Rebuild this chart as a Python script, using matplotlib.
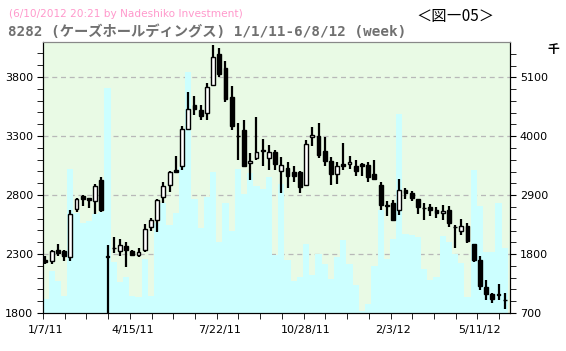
import numpy as np
import matplotlib
matplotlib.use("Agg")
import matplotlib.pyplot as plt

# weekly candles, 1/7/11 .. 6/8/12
opens = [2252, 2243, 2331, 2323, 2272, 2681, 2789, 2772, 2746, 2930,
         2282, 2352, 2323, 2371, 2328, 2294, 2331, 2529, 2591, 2783,
         2888, 3015, 3043, 3359, 3560, 3523, 3495, 3735, 3998, 3876,
         3631, 3302, 3354, 3071, 3111, 3178, 3114, 3164, 3006, 3029,
         2995, 2992, 2882, 3292, 3297, 3176, 3085, 2978, 3066, 3063,
         3049, 3066, 3057, 2978, 2888, 2712, 2732, 2670, 2840, 2817,
         2769, 2692, 2695, 2670, 2647, 2676, 2531, 2492, 2540, 2388,
         2252, 2020, 1958, 1960, 1912]
highs = [2286, 2337, 2388, 2337, 2676, 2777, 2803, 2775, 2896, 2950,
         2379, 2444, 2427, 2399, 2337, 2351, 2557, 2605, 2766, 2907,
         3003, 3133, 3382, 3670, 3636, 3565, 3749, 4074, 4046, 3933,
         3727, 3410, 3438, 3156, 3461, 3275, 3227, 3184, 3122, 3077,
         3049, 3000, 3269, 3376, 3410, 3292, 3122, 3080, 3241, 3133,
         3100, 3071, 3077, 3100, 2907, 2752, 2760, 2936, 2857, 2831,
         2769, 2732, 2727, 2698, 2718, 2710, 2546, 2599, 2563, 2388,
         2280, 2082, 1972, 2046, 1972]
lows = [2218, 2215, 2280, 2238, 2238, 2653, 2704, 2687, 2639, 2659,
        1780, 2308, 2286, 2187, 2280, 2275, 2320, 2492, 2484, 2732,
        2823, 2986, 3009, 3348, 3481, 3433, 3433, 3721, 3800, 3585,
        3354, 3094, 3034, 2924, 3094, 3043, 3009, 3009, 2817, 2859,
        2907, 2817, 2873, 3218, 3114, 3049, 2888, 2896, 3009, 3023,
        2958, 2958, 2907, 2930, 2670, 2625, 2582, 2633, 2769, 2746,
        2642, 2585, 2619, 2605, 2585, 2526, 2351, 2458, 2393, 2229,
        1992, 1907, 1887, 1907, 1830]
closes = [2229, 2328, 2308, 2280, 2642, 2766, 2766, 2755, 2879, 2676,
          2278, 2348, 2379, 2331, 2294, 2314, 2512, 2585, 2755, 2879,
          2995, 2995, 3359, 3529, 3529, 3467, 3715, 3970, 3825, 3614,
          3382, 3298, 3043, 3088, 3162, 3174, 3162, 3063, 3051, 2958,
          2958, 2868, 3232, 3309, 3142, 3085, 2978, 3049, 3043, 3080,
          3001, 3049, 2950, 2936, 2712, 2708, 2591, 2840, 2817, 2775,
          2695, 2688, 2670, 2647, 2664, 2563, 2527, 2534, 2407, 2252,
          2026, 1964, 1921, 1956, 1908]
# volume in thousands of shares
volumes = [970, 1490, 1300, 1020, 3390, 2570, 2380, 2420, 2540, 2590,
           4900, 1660, 1280, 1380, 1020, 1000, 1700, 1020, 2380, 2750,
           2350, 2570, 3420, 5200, 2830, 2290, 2870, 3340, 2030, 2760,
           2240, 3390, 2920, 3320, 3070, 3020, 3240, 1790, 3100, 1690,
           1300, 1380, 1990, 1410, 1800, 1610, 1330, 1740, 2060, 1610,
           1220, 730, 860, 1580, 2620, 1710, 2090, 4410, 2170, 2160,
           2120, 1530, 1320, 1380, 2140, 2030, 1800, 1640, 990, 3370,
           2700, 1830, 1830, 2750, 1910]

date_labels = ["1/7/11", "4/15/11", "7/22/11", "10/28/11", "2/3/12", "5/11/12"]
price_ticks = [1800, 2300, 2800, 3300, 3800]
vol_ticks = [700, 1800, 2900, 4000, 5100]

W, H = 566, 351
fig = plt.figure(figsize=(W / 100, H / 100), dpi=100)
rect = [43 / W, 38 / H, 467 / W, 271 / H]
ax = fig.add_axes(rect)
axv = ax.twinx()
ax.set_zorder(2)
axv.set_zorder(1)
ax.patch.set_visible(False)
axv.patch.set_visible(True)
axv.patch.set_facecolor("#e9fae5")

x = np.arange(len(opens))
o = np.array(opens)
c = np.array(closes)

# volume
axv.bar(x, volumes, width=1.0, color="#ccffff", linewidth=0, zorder=2)
axv.set_ylim(700, 5760)
axv.set_yticks(vol_ticks)
axv.set_yticks(np.arange(700, 5760, 220), minor=True)
axv.grid(axis="y", color="#b8b8b8", linestyle=(0, (4, 3)), linewidth=0.9)
axv.set_axisbelow(True)

# candles
ax.vlines(x, lows, highs, color="black", linewidth=1.6, zorder=3)
up = c >= o
bottoms = np.minimum(o, c)
heights = np.maximum(np.abs(c - o), 1)
ax.bar(x[up], heights[up], bottom=bottoms[up], width=0.62,
       color="white", edgecolor="black", linewidth=1.0, zorder=4)
ax.bar(x[~up], heights[~up], bottom=bottoms[~up], width=0.62,
       color="black", edgecolor="black", linewidth=1.0, zorder=4)

ax.set_xlim(-0.4, 74.85)
ax.set_ylim(1800, 4097)
ax.set_yticks(price_ticks)
ax.set_yticks(np.arange(1800, 4100, 100), minor=True)
ax.set_xticks(np.arange(0, 71, 14))
ax.set_xticklabels(date_labels)
ax.set_xticks(-0.4 + 3.5 * np.arange(22), minor=True)
ax.tick_params(axis="x", which="major", length=0, pad=9, labelsize=8)
ax.tick_params(axis="x", which="minor", length=4, direction="out")
ax.tick_params(axis="y", which="both", length=4, direction="out", labelsize=8, pad=3)
axv.tick_params(axis="y", which="both", length=4, direction="out", labelsize=8, pad=3)

for a in (ax, axv):
    a.spines["top"].set_color("#888888")
    for s in ("left", "right", "bottom"):
        a.spines[s].set_color("black")

jp = ["DejaVu Sans Mono", "Noto Sans CJK JP"]
fig.text(9 / W, 1 - 14 / H, "(6/10/2012 20:21 by Nadeshiko Investment)",
         color="#ff99cc", fontsize=7.6, va="center", ha="left")
fig.text(8 / W, 1 - 32 / H, "8282 (ケーズホールディングス) 1/1/11-6/8/12 (week)",
         color="#707070", fontsize=10.3, va="center", ha="left", family=jp,
         fontweight="bold")
fig.text(455 / W, 1 - 17 / H, "＜図―05＞", color="black", fontsize=11,
         va="center", ha="center", family=["Noto Sans CJK JP"])
fig.text(553 / W, 1 - 50 / H, "千", color="black", fontsize=8.5,
         va="center", ha="center", family=["Noto Sans CJK JP"], fontweight="bold")

fig.savefig("out.png", dpi=100, facecolor="white")
